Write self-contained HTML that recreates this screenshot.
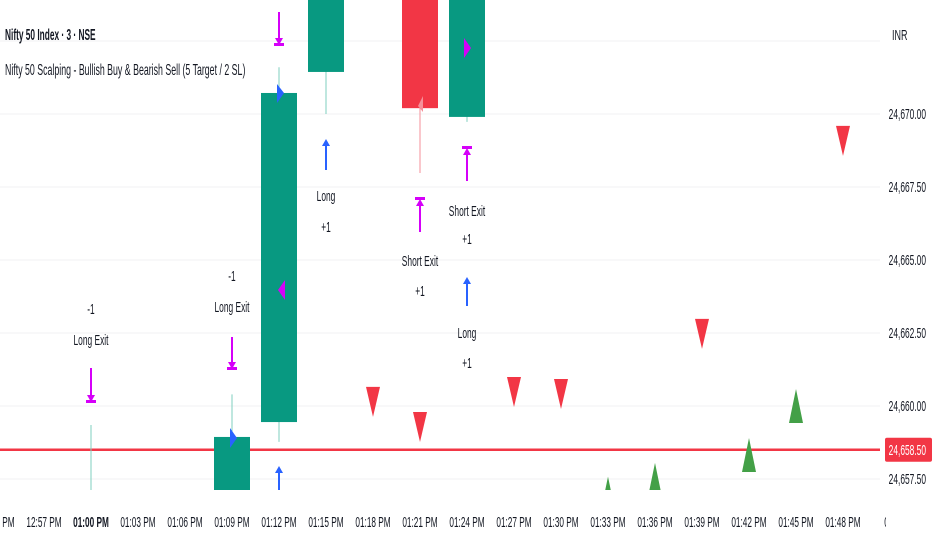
<!DOCTYPE html>
<html><head><meta charset="utf-8">
<style>
html,body{margin:0;padding:0;background:#fff;}
body{width:932px;height:550px;overflow:hidden;position:relative;font-family:"Liberation Sans",sans-serif;}
svg{position:absolute;left:0;top:0;}
text{font-family:"Liberation Sans",sans-serif;}
</style></head>
<body>
<svg id="chart" width="932" height="550"></svg>
<script>
const timeLabels=["12:54 PM","12:57 PM","01:00 PM","01:03 PM","01:06 PM","01:09 PM","01:12 PM","01:15 PM","01:18 PM","01:21 PM","01:24 PM","01:27 PM","01:30 PM","01:33 PM","01:36 PM","01:39 PM","01:42 PM","01:45 PM","01:48 PM","01:51 PM"];
const priceTicks=[24657.5,24660,24662.5,24665,24667.5,24670,24672.5];
const candleIdx=[2,4,5,6,7,9,10];
const candleOpen=[24658.9,24656.9,24656.0,24659.45,24671.44,24674.5,24669.9];
const candleHigh=[24659.35,24657.0,24660.4,24671.6,24674.5,24675.0,24674.5];
const candleLow=[24656.5,24656.5,24655.0,24658.77,24670.0,24667.98,24669.73];
const candleClose=[24658.9,24656.9,24658.94,24670.72,24674.0,24670.2,24674.0];
const sellIdx=[8,9,11,12,15,18];
const sellVal=[24660.14,24659.28,24660.48,24660.41,24662.47,24669.08];
const buyIdx=[13,14,16,17];
const buyVal=[24657.0,24657.47,24658.32,24660.0];
const lastPrice=24658.5;

const svg=document.getElementById('chart');
const NS='http://www.w3.org/2000/svg';
const PW=880,PH=490;
function X(i){return -3+47*i;}
function Y(v){return 406-(v-24660)*29.2;}
function el(t,a,p){const e=document.createElementNS(NS,t);for(const k in a)e.setAttribute(k,a[k]);(p||svg).appendChild(e);return e;}
function sx(x,s){return `translate(${x} 0) scale(${s} 1) translate(${-x} 0)`;}

const defs=el('defs',{});
const cp=el('clipPath',{id:'plotclip'},defs);
el('rect',{x:0,y:0,width:PW,height:PH},cp);

priceTicks.forEach(v=>{
  const g=el('line',{x1:0,x2:PW,y1:Y(v),y2:Y(v),stroke:'#f0f1f3','stroke-width':1});
  
  
});

const plot=el('g',{'clip-path':'url(#plotclip)'});



const pl=el('line',{x1:0,x2:PW,y1:Y(lastPrice),y2:Y(lastPrice),stroke:'#f23645','stroke-width':2.5},plot);



candleIdx.forEach((ix,k)=>{
  const o=candleOpen[k],c=candleClose[k],h=candleHigh[k],l=candleLow[k];
  const up=c>=o;const col=up?'#089981':'#f23645';const wcol=up?'#7fcfbf':'#f58f99';
  const cx=X(ix);
  const w=el('line',{x1:cx,x2:cx,y1:Y(h),y2:Y(l),stroke:wcol,'stroke-width':1},plot);
  
  
  const top=Y(Math.max(o,c)),bot=Y(Math.min(o,c));
  if(bot-top<0.5) return;
  const b=el('rect',{x:cx-18,y:top,width:36,height:bot-top,fill:col},plot);
  
  
});

sellIdx.forEach((ix,k)=>{
  const cx=X(ix),cy=Y(sellVal[k]);
  const t=el('polygon',{points:`${cx-7},${cy-15} ${cx+7},${cy-15} ${cx},${cy+15}`,fill:'#f23645'},plot);
  
  
});
buyIdx.forEach((ix,k)=>{
  const cx=X(ix),cy=Y(buyVal[k]);
  const t=el('polygon',{points:`${cx-7},${cy+17} ${cx+7},${cy+17} ${cx},${cy-17}`,fill:'#43a047'},plot);
  
  
});

function arrowDown(cx,y1,y2,col){
  el('line',{x1:cx,x2:cx,y1:y1,y2:y2-6,stroke:col,'stroke-width':2},plot);
  el('polygon',{points:`${cx-4},${y2-8} ${cx+4},${y2-8} ${cx},${y2-1}`,fill:col},plot);
}
function arrowUp(cx,y1,y2,col){
  el('line',{x1:cx,x2:cx,y1:y1+6,y2:y2,stroke:col,'stroke-width':2},plot);
  el('polygon',{points:`${cx-4},${y1+8} ${cx+4},${y1+8} ${cx},${y1+1}`,fill:col},plot);
}
function label(cx,y,txt){
  const t=el('text',{x:cx,y:y,'text-anchor':'middle','font-size':15,fill:'#131722',transform:sx(cx,0.56)},plot);
  t.textContent=txt;
  
  
}
const M='#d500f9',B='#2962ff';
label(X(2),314,'-1');label(X(2),345,'Long Exit');
arrowDown(X(2),368,403,M);el('rect',{x:X(2)-5,y:400,width:10,height:3,fill:M},plot);
label(X(5),281,'-1');label(X(5),312,'Long Exit');
arrowDown(X(5),337,370,M);el('rect',{x:X(5)-5,y:367,width:10,height:3,fill:M},plot);
arrowDown(X(6),12,46,M);el('rect',{x:X(6)-5,y:43,width:10,height:3,fill:M},plot);
arrowUp(X(6),465,490,B);
el('polygon',{points:`${X(6)-2},84 ${X(6)+5},93 ${X(6)-2},103`,fill:B},plot);
el('polygon',{points:`${X(5)-2},428 ${X(5)+5},438 ${X(5)-2},448`,fill:B},plot);
el('polygon',{points:`${X(6)+6},280 ${X(6)-1},290 ${X(6)+6},300`,fill:M},plot);
el('polygon',{points:`${X(10)-3},38 ${X(10)+4},48 ${X(10)-3},58`,fill:M},plot);
el('polygon',{points:`${X(9)+3},96 ${X(9)-2},106 ${X(9)+3},112`,fill:'#f58f99'},plot);
arrowUp(X(7),138,170,B);label(X(7),201,'Long');label(X(7),232,'+1');
arrowUp(X(9),198,232,M);el('rect',{x:X(9)-5,y:197,width:10,height:3,fill:M},plot);
label(X(9),266,'Short Exit');label(X(9),296,'+1');
arrowUp(X(10),147,181,M);el('rect',{x:X(10)-5,y:146,width:10,height:3,fill:M},plot);
label(X(10),216,'Short Exit');label(X(10),244,'+1');
arrowUp(X(10),276,306,B);label(X(10),338,'Long');label(X(10),368,'+1');

priceTicks.forEach(v=>{
  const y=Y(v);if(y<50)return;
  const t=el('text',{x:926,y:y+5,'text-anchor':'end','font-size':15,fill:'#131722',transform:sx(926,0.56)});
  t.textContent=v.toLocaleString('en-US',{minimumFractionDigits:2});
  
  
});
const inr=el('text',{x:892,y:40,'font-size':15,fill:'#131722',transform:sx(892,0.6)});inr.textContent='INR';


const tag=el('rect',{x:885,y:Y(lastPrice)-12,width:47,height:24,fill:'#f23645',rx:2});


const tt=el('text',{x:926,y:Y(lastPrice)+5,'text-anchor':'end','font-size':15,fill:'#fff',transform:sx(926,0.56)});
tt.textContent=lastPrice.toLocaleString('en-US',{minimumFractionDigits:2});



const xg=el('g',{});
timeLabels.forEach((lb,i)=>{
  const cx=X(i);
  const t=el('text',{x:cx,y:527,'text-anchor':'middle','font-size':15,fill:'#131722','font-weight':lb==='01:00 PM'?'bold':'normal',transform:sx(cx,0.55)},xg);
  t.textContent=i===timeLabels.length-1?'01:':lb;
  
  
});
const ml=el('rect',{x:886,y:500,width:60,height:50,fill:'#fff'},xg);



const t1=el('text',{x:5,y:40,'font-size':16,'font-weight':'bold',fill:'#131722',transform:sx(5,0.52)});
t1.textContent='Nifty 50 Index · 3 · NSE';


const t2=el('text',{x:5,y:75,'font-size':16,fill:'#131722',transform:sx(5,0.55)});
t2.textContent='Nifty 50 Scalping - Bullish Buy & Bearish Sell (5 Target / 2 SL)';


</script>
</body></html>
